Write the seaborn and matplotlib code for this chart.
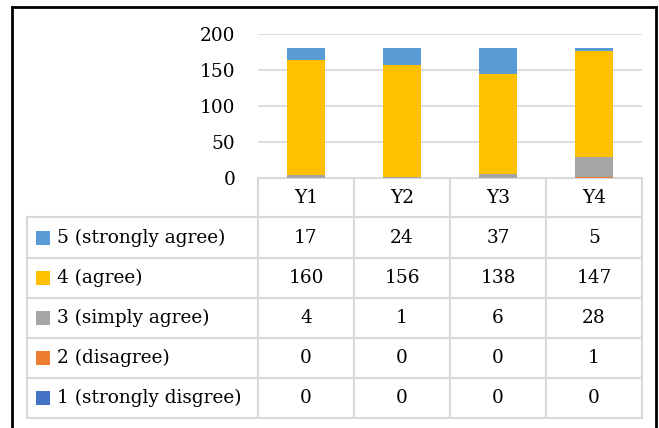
import matplotlib
matplotlib.use("Agg")
import matplotlib.pyplot as plt
import seaborn as sns
import numpy as np

categories = ["Y1", "Y2", "Y3", "Y4"]
series_labels = ["5 (strongly agree)", "4 (agree)", "3 (simply agree)",
                 "2 (disagree)", "1 (strongly disgree)"]
s5 = [17, 24, 37, 5]
s4 = [160, 156, 138, 147]
s3 = [4, 1, 6, 28]
s2 = [0, 0, 0, 1]
s1 = [0, 0, 0, 0]
series_values = [s5, s4, s3, s2, s1]
colors = ["#5B9BD5", "#FFC000", "#A5A5A5", "#ED7D31", "#4472C4"]
yticks = [0, 50, 100, 150, 200]

sns.set_theme(style="white")
plt.rcParams["font.family"] = ["DejaVu Serif", "Liberation Serif"]
plt.rcParams["text.color"] = "#000000"
plt.rcParams["ytick.color"] = "#000000"
plt.rcParams["ytick.labelcolor"] = "#000000"
FS = 13.3

W, H = 659, 428
fig = plt.figure(figsize=(W / 100, H / 100), dpi=100, facecolor="white")

# overlay axes in pixel coords for frame and table
tab = fig.add_axes([0, 0, 1, 1])
tab.set_xlim(0, W)
tab.set_ylim(H, 0)
tab.axis("off")

# bar axes
x0, x1, ytop, ybot = 258, 642, 34, 178
ax = fig.add_axes([x0 / W, (H - ybot) / H, (x1 - x0) / W, (ybot - ytop) / H])
ax.set_facecolor("none")

# stacked bars via cumulative overlay (bottom series drawn last)
stack_bottom_up = list(reversed(series_values))  # s1..s5
colors_bottom_up = list(reversed(colors))
cum = np.cumsum(np.array(stack_bottom_up), axis=0)
for i in range(len(stack_bottom_up) - 1, -1, -1):
    sns.barplot(x=categories, y=cum[i], color=colors_bottom_up[i], width=0.4,
                saturation=1, linewidth=0, ax=ax, zorder=3)

ax.set_ylim(0, 200)
ax.set_xlim(-0.5, 3.5)
ax.set_yticks(yticks)
ax.set_yticklabels([str(v) for v in yticks], fontsize=FS, color="#000000")
ax.tick_params(axis="y", length=0, pad=16.5)
ax.set_xticks([])
ax.set_xlabel("")
ax.set_ylabel("")
ax.yaxis.grid(True, color="#D9D9D9", linewidth=1.3)
ax.set_axisbelow(True)
for sp in ax.spines.values():
    sp.set_visible(False)

# outer frame
fc = "#000000"
tab.plot([12, 656], [7, 7], color=fc, lw=2, solid_capstyle="projecting")
tab.plot([12, 12], [7, 440], color=fc, lw=2)
tab.plot([656, 656], [7, 440], color=fc, lw=2)

# data table
gc = "#D9D9D9"
glw = 1.5
col_edges = [258, 354, 450, 546, 642]
row_edges = [178, 217, 258, 298, 338, 378, 418]
left = 27
tab.plot([col_edges[0], col_edges[-1]], [row_edges[0], row_edges[0]], color=gc, lw=glw)
for y in row_edges[1:]:
    tab.plot([left, col_edges[-1]], [y, y], color=gc, lw=glw)
tab.plot([left, left], [row_edges[1], row_edges[-1]], color=gc, lw=glw)
for x in col_edges:
    tab.plot([x, x], [row_edges[0], row_edges[-1]], color=gc, lw=glw)

centers = [(col_edges[i] + col_edges[i + 1]) / 2 for i in range(4)]
for i, c in enumerate(categories):
    tab.text(centers[i], (row_edges[0] + row_edges[1]) / 2, c, ha="center",
             va="center", fontsize=FS, color="#000000")
for r, (lab, vals, col) in enumerate(zip(series_labels, series_values, colors)):
    yc = (row_edges[r + 1] + row_edges[r + 2]) / 2
    tab.add_patch(plt.Rectangle((36, yc - 7), 14, 14, color=col, lw=0))
    tab.text(57, yc, lab, ha="left", va="center", fontsize=FS, color="#000000")
    for i, v in enumerate(vals):
        tab.text(centers[i], yc, str(v), ha="center", va="center", fontsize=FS,
                 color="#000000")

fig.savefig("out.png", dpi=100, facecolor="white")
